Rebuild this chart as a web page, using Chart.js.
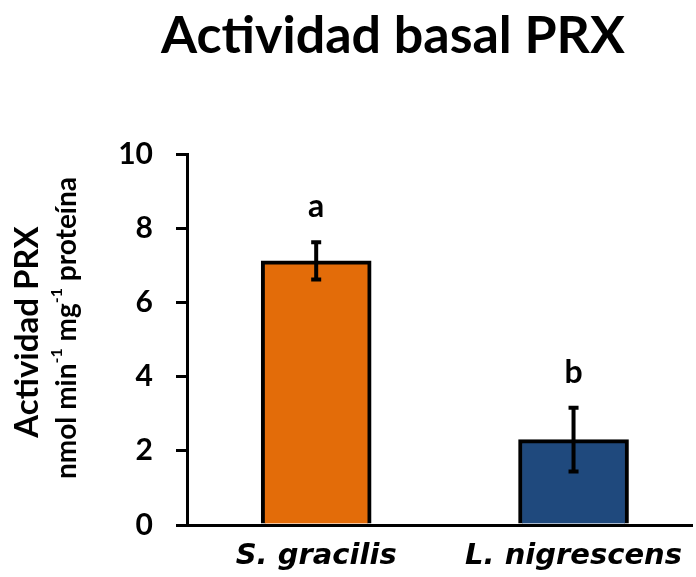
<!DOCTYPE html>
<html>
<head>
<meta charset="utf-8">
<script src="https://cdn.jsdelivr.net/npm/chart.js@4.4.1/dist/chart.umd.min.js"></script>
<style>
  html, body { margin: 0; padding: 0; background: #ffffff; }
  canvas { display: block; }
</style>
</head>
<body>
<canvas id="chart" width="696" height="577"></canvas>
<script>
// Basal PRX activity per species (mean ± error)
const categories = ['S. gracilis', 'L. nigrescens'];
const means = [7.12, 2.30];
const errors = [0.50, 0.86];
const letters = ['a', 'b'];
const barColors = ['#E36C09', '#1F497D'];
const yTicks = [0, 2, 4, 6, 8, 10];

const titleText = 'Actividad basal PRX';
const yTitleLine1 = 'Actividad PRX';
// second y-title line: [text, isSuperscript]
const yTitleLine2 = [['nmol min', false], ['-1', true], [' mg', false], ['-1', true], [' proteína', false]];

const FONT = 'Lato, "Open Sans", sans-serif';

// Title, y-axis caption, error bars and significance letters
const decorations = {
  id: 'decorations',
  afterDatasetsDraw(chart) {
    const { ctx, scales: { y } } = chart;
    const meta = chart.getDatasetMeta(0);
    ctx.save();
    ctx.strokeStyle = '#000';
    ctx.fillStyle = '#000';
    ctx.lineWidth = 4;
    ctx.lineCap = 'butt';
    meta.data.forEach((bar, i) => {
      const top = y.getPixelForValue(means[i] + errors[i]);
      const bot = y.getPixelForValue(means[i] - errors[i]);
      ctx.beginPath();
      ctx.moveTo(bar.x, top);
      ctx.lineTo(bar.x, bot);
      ctx.moveTo(bar.x - 5, top);
      ctx.lineTo(bar.x + 5, top);
      ctx.moveTo(bar.x - 5, bot);
      ctx.lineTo(bar.x + 5, bot);
      ctx.stroke();
      ctx.font = 'bold 32px ' + FONT;
      ctx.textAlign = 'center';
      ctx.textBaseline = 'alphabetic';
      ctx.fillText(letters[i], bar.x, top - 25);
    });
    ctx.restore();
  },
  afterDraw(chart) {
    const { ctx } = chart;
    ctx.save();
    ctx.fillStyle = '#000';
    // chart title
    ctx.font = 'bold 52px ' + FONT;
    ctx.textAlign = 'center';
    ctx.textBaseline = 'alphabetic';
    ctx.fillText(titleText, 393, 53);

    // rotated y-axis caption, first line
    ctx.save();
    ctx.translate(27, 332);
    ctx.rotate(-Math.PI / 2);
    ctx.font = 'bold 33px ' + FONT;
    ctx.textAlign = 'center';
    ctx.textBaseline = 'middle';
    ctx.fillText(yTitleLine1, 0, 0);
    ctx.restore();

    // second line with superscripts
    ctx.save();
    ctx.translate(67, 328);
    ctx.rotate(-Math.PI / 2);
    ctx.textBaseline = 'middle';
    ctx.textAlign = 'left';
    const mainFont = 'bold 28px ' + FONT;
    const supFont = 'bold 16px ' + FONT;
    let total = 0;
    yTitleLine2.forEach(([t, sup]) => {
      ctx.font = sup ? supFont : mainFont;
      total += ctx.measureText(t).width;
    });
    let x = -total / 2;
    yTitleLine2.forEach(([t, sup]) => {
      ctx.font = sup ? supFont : mainFont;
      ctx.fillText(t, x, sup ? -10 : 0);
      x += ctx.measureText(t).width;
    });
    ctx.restore();
    ctx.restore();
  }
};

new Chart(document.getElementById('chart'), {
  type: 'bar',
  data: {
    datasets: [{
      data: means.map((v, i) => ({ x: i, y: v })),
      backgroundColor: barColors,
      borderColor: '#000',
      borderWidth: 4,
      barThickness: 110
    }]
  },
  options: {
    responsive: false,
    animation: false,
    layout: { padding: { top: 154, right: 0, bottom: 0, left: 0 } },
    plugins: {
      legend: { display: false },
      tooltip: { enabled: false },
      title: { display: false }
    },
    scales: {
      x: {
        type: 'linear',
        offset: false,
        min: -0.502,
        max: 1.463,
        afterBuildTicks(scale) {
          scale.ticks = categories.map((_, i) => ({ value: i }));
        },
        afterFit(scale) { scale.height = 52; },
        grid: { display: false, drawTicks: false, offset: false },
        border: { display: true, color: '#000', width: 3 },
        ticks: {
          padding: 14,
          color: '#000',
          maxRotation: 0,
          autoSkip: false,
          font: { family: '"DejaVu Sans"', size: 29, style: 'italic', weight: 'bold' },
          callback: (v) => categories[v] ?? ''
        }
      },
      y: {
        min: 0,
        max: 10,
        afterBuildTicks(scale) {
          scale.ticks = yTicks.map(v => ({ value: v }));
        },
        afterFit(scale) { scale.width = 187; },
        grid: {
          display: true,
          drawOnChartArea: false,
          drawTicks: true,
          tickLength: 11,
          color: '#000',
          lineWidth: 3
        },
        border: { display: true, color: '#000', width: 3 },
        ticks: {
          padding: 23,
          color: '#000',
          font: { family: FONT, size: 30, weight: 'bold' }
        }
      }
    }
  },
  plugins: [decorations]
});
</script>
</body>
</html>
